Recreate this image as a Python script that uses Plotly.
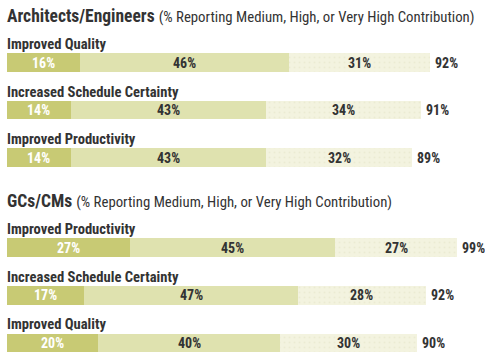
import plotly.graph_objects as go

groups = ["Architects/Engineers", "GCs/CMs"]
subtitle = "(% Reporting Medium, High, or Very High Contribution)"
categories = [
    ["Improved Quality", "Increased Schedule Certainty", "Improved Productivity"],
    ["Improved Productivity", "Increased Schedule Certainty", "Improved Quality"],
]
very_high = [[16, 14, 14], [27, 17, 20]]
high = [[46, 43, 43], [45, 47, 40]]
medium = [[31, 34, 32], [27, 28, 30]]
totals = [[92, 91, 89], [99, 92, 90]]

FONT = "Roboto Condensed, Liberation Sans Narrow, DejaVu Sans Condensed, Roboto, sans-serif"
C1, C2, C3 = "#c8ca74", "#dfe2af", "#f3f3df"
TXT = "#333333"

GROUP_GAP = 0.89
ys, v1, v2, v3, tot, cats = [], [], [], [], [], []
for g in range(len(groups)):
    for i in range(len(categories[g])):
        ys.append(g * (3 + GROUP_GAP) + i)
        v1.append(very_high[g][i]); v2.append(high[g][i]); v3.append(medium[g][i])
        tot.append(totals[g][i]); cats.append(categories[g][i])

fig = go.Figure()
w = 0.39
common = dict(orientation="h", width=w, textposition="none", hoverinfo="skip")
fig.add_trace(go.Bar(y=ys, x=v1, marker=dict(color=C1, line=dict(width=0)), **common))
fig.add_trace(go.Bar(y=ys, x=v2, marker=dict(color=C2, line=dict(width=0)), **common))
fig.add_trace(go.Bar(y=ys, x=v3,
                     marker=dict(color=C3, line=dict(width=0),
                                 pattern=dict(shape=".", fgcolor="#e4e4c6", bgcolor=C3, size=5, solidity=0.12)),
                     **common))

SEG = 14
annotations = []
for y, a, b, c, t, cat in zip(ys, v1, v2, v3, tot, cats):
    for start, val, col in ((0, a, "white"), (a, b, TXT), (a + b, c, TXT)):
        annotations.append(dict(x=start + val / 2, y=y, xref="x", yref="y", text=f"<b>{val}%</b>",
                                showarrow=False, xanchor="center", yanchor="middle",
                                font=dict(family=FONT, size=SEG, color=col)))
    annotations.append(dict(x=a + b + c, y=y, xref="x", yref="y", text=f"<b>{t}%</b>", showarrow=False,
                            xanchor="left", yanchor="middle", xshift=3,
                            font=dict(family=FONT, size=14, color=TXT)))
    annotations.append(dict(x=0, y=y - 0.39, xref="x", yref="y", text=f"<b>{cat}</b>", showarrow=False,
                            xanchor="left", yanchor="middle", xshift=-2,
                            font=dict(family=FONT, size=14.6, color=TXT)))
for g, name in enumerate(groups):
    annotations.append(dict(x=0, y=g * (3 + GROUP_GAP) - 0.97, xref="x", yref="y",
                            text=f"<b>{name}</b> <span style='font-size:14.8px'>{subtitle}</span>",
                            showarrow=False, xanchor="left", yanchor="middle", xshift=-2,
                            font=dict(family=FONT, size=17.5, color=TXT)))

fig.update_layout(
    barmode="stack", width=485, height=360,
    margin=dict(l=7, r=0, t=0, b=0),
    paper_bgcolor="white", plot_bgcolor="white",
    showlegend=False, bargap=0,
    xaxis=dict(range=[0, 478 / 4.55], visible=False, fixedrange=True),
    yaxis=dict(range=[6.25, -1.313], visible=False, fixedrange=True),
    annotations=annotations,
)
fig.write_html("out.html", config={"displayModeBar": False},
               post_script="document.body.style.margin='0px';document.body.style.overflow='hidden';")
